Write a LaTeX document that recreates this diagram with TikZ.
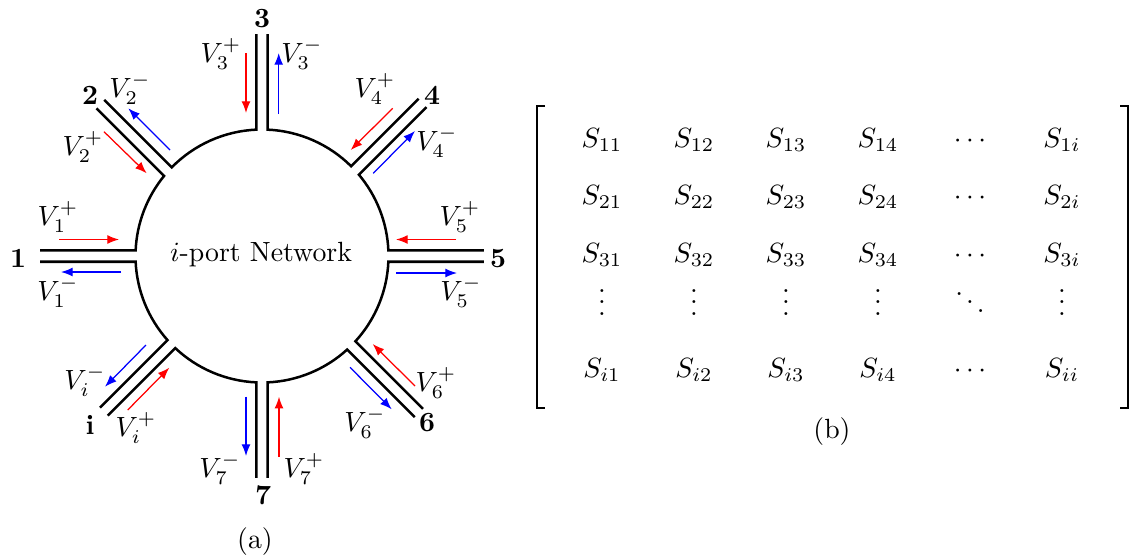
\documentclass[tikz,border=0pt]{standalone}
\usetikzlibrary{arrows.meta,calc}
\newcommand\myvdots{\vbox{\baselineskip4pt \lineskiplimit0pt \hbox{.}\hbox{.}\hbox{.}}}
\begin{document}
\begin{tikzpicture}[x=0.3597pt,y=-0.3597pt,
  portline/.style={line width=0.9pt},
  inarr/.style={draw=red, line width=0.45pt, -{Latex[length=4.2pt,width=3.2pt]}},
  outarr/.style={draw=blue, line width=0.45pt, -{Latex[length=4.2pt,width=3.2pt]}},
  lab/.style={inner sep=0pt},
  portnum/.style={inner sep=0pt, font=\bfseries},
  ent/.style={inner sep=0pt, anchor=base},
  bracketline/.style={line width=0.7pt}]
\useasboundingbox (0,0) rectangle (1133,554);
% ---- network outline: circle with eight two-wire ports
\begin{scope}[shift={(262,256)},yscale=-1]
  \foreach \da/\ts/\te/\db in {0/2.6/40/45, 45/45.2/87.4/90, 90/92.6/135.5/135,
      135/140.7/177.4/180, 180/182.6/221.7/225, 225/226.7/267.4/270,
      270/272.6/312.3/315, 315/317.6/357.4/360}
    \draw[portline] ($(\ts:126.5)+(\da:95.5)$) -- (\ts:126.5)
      arc[start angle=\ts, end angle=\te, radius=126.5] -- ++(\db:95.5);
\end{scope}
\node[lab] (net) at (261,261) [anchor=base] {$i$-port Network};
% ---- incident waves (red)
\foreach \n/\ax/\ay/\bx/\by in {1/59/239.5/119/239.5, 2/104/131.7/146.7/173.3,
    3/246/53/246/113, 4/392.7/108.3/350.7/150, 5/456/239.5/396/239.5,
    6/415/386/372.7/344, 7/279/456.7/279/396.7, i/127.7/410/169.3/367.7}
  {\coordinate (r\n a) at (\ax,\ay); \coordinate (r\n b) at (\bx,\by);
   \draw[inarr] (r\n a) -- (r\n b);}
% ---- reflected waves (blue)
\foreach \n/\ax/\ay/\bx/\by in {1/121/272/61/272, 2/170/150/128.3/108.3,
    3/278.7/114/278.7/53, 4/373.3/173.3/415/131, 5/396/273/457/273,
    6/350/367.3/391.7/409.3, 7/246/396.7/246/456, i/146/345/105/386.7}
  {\coordinate (b\n a) at (\ax,\ay); \coordinate (b\n b) at (\bx,\by);
   \draw[outarr] (b\n a) -- (b\n b);}
% ---- port numbers
\node[portnum] (n1) at (18,258) {1};
\node[portnum] (n2) at (90,95) {2};
\node[portnum] (n3) at (262,18.5) {3};
\node[portnum] (n4) at (432,95) {4};
\node[portnum] (n5) at (498,259) {5};
\node[portnum] (n6) at (427,423) {6};
\node[portnum] (n7) at (263,495) {7};
\node[portnum] (ni) at (90,425) {i};
% ---- wave labels
\node[lab] (v1p) at (58,217) {$V_1^+$};
\node[lab] (v1m) at (58,292) {$V_1^-$};
\node[lab] (v2m) at (130,89) {$V_2^-$};
\node[lab] (v2p) at (83,147) {$V_2^+$};
\node[lab] (v3p) at (221,54) {$V_3^+$};
\node[lab] (v3m) at (302,54) {$V_3^-$};
\node[lab] (v4p) at (375,89) {$V_4^+$};
\node[lab] (v4m) at (437,142) {$V_4^-$};
\node[lab] (v5p) at (460,217) {$V_5^+$};
\node[lab] (v5m) at (461,292) {$V_5^-$};
\node[lab] (v6p) at (436,383) {$V_6^+$};
\node[lab] (v6m) at (365,423) {$V_6^-$};
\node[lab] (v7m) at (220,469) {$V_7^-$};
\node[lab] (v7p) at (304,469) {$V_7^+$};
\node[lab] (vim) at (85,381) {$V_i^-$};
\node[lab] (vip) at (136,428) {$V_i^+$};
\node[ent] (capa) at (255,548) {(a)};
% ---- scattering matrix
\foreach \r/\y in {1/147,2/204.5,3/262}{
  \foreach \c/\x/\s in {1/602/1,2/694/2,3/786/3,4/878/4,6/1062/i}
    \node[ent] (m\r\c) at (\x,\y) {$S_{\r\s}$};
  \node[ent] (m\r5) at (970,\y) {$\cdots$};
}
\foreach \c/\x in {1/602,2/694,3/786,4/878,6/1062}
  \node[ent] (m4\c) at (\x,315) {$\myvdots$};
\node[ent] (m45) at (970,315) {$\ddots$};
\foreach \c/\x/\s in {1/602/1,2/694/2,3/786/3,4/878/4,6/1062/i}
  \node[ent] (m5\c) at (\x,377) {$S_{i\s}$};
\node[ent] (m55) at (970,377) {$\cdots$};
\draw[bracketline] (545,106) -- (536.7,106) -- (536.7,408) -- (545,408);
\draw[bracketline] (1120,106) -- (1128,106) -- (1128,408) -- (1120,408);
\node[ent] (capb) at (832,438) {(b)};
\end{tikzpicture}
\end{document}
